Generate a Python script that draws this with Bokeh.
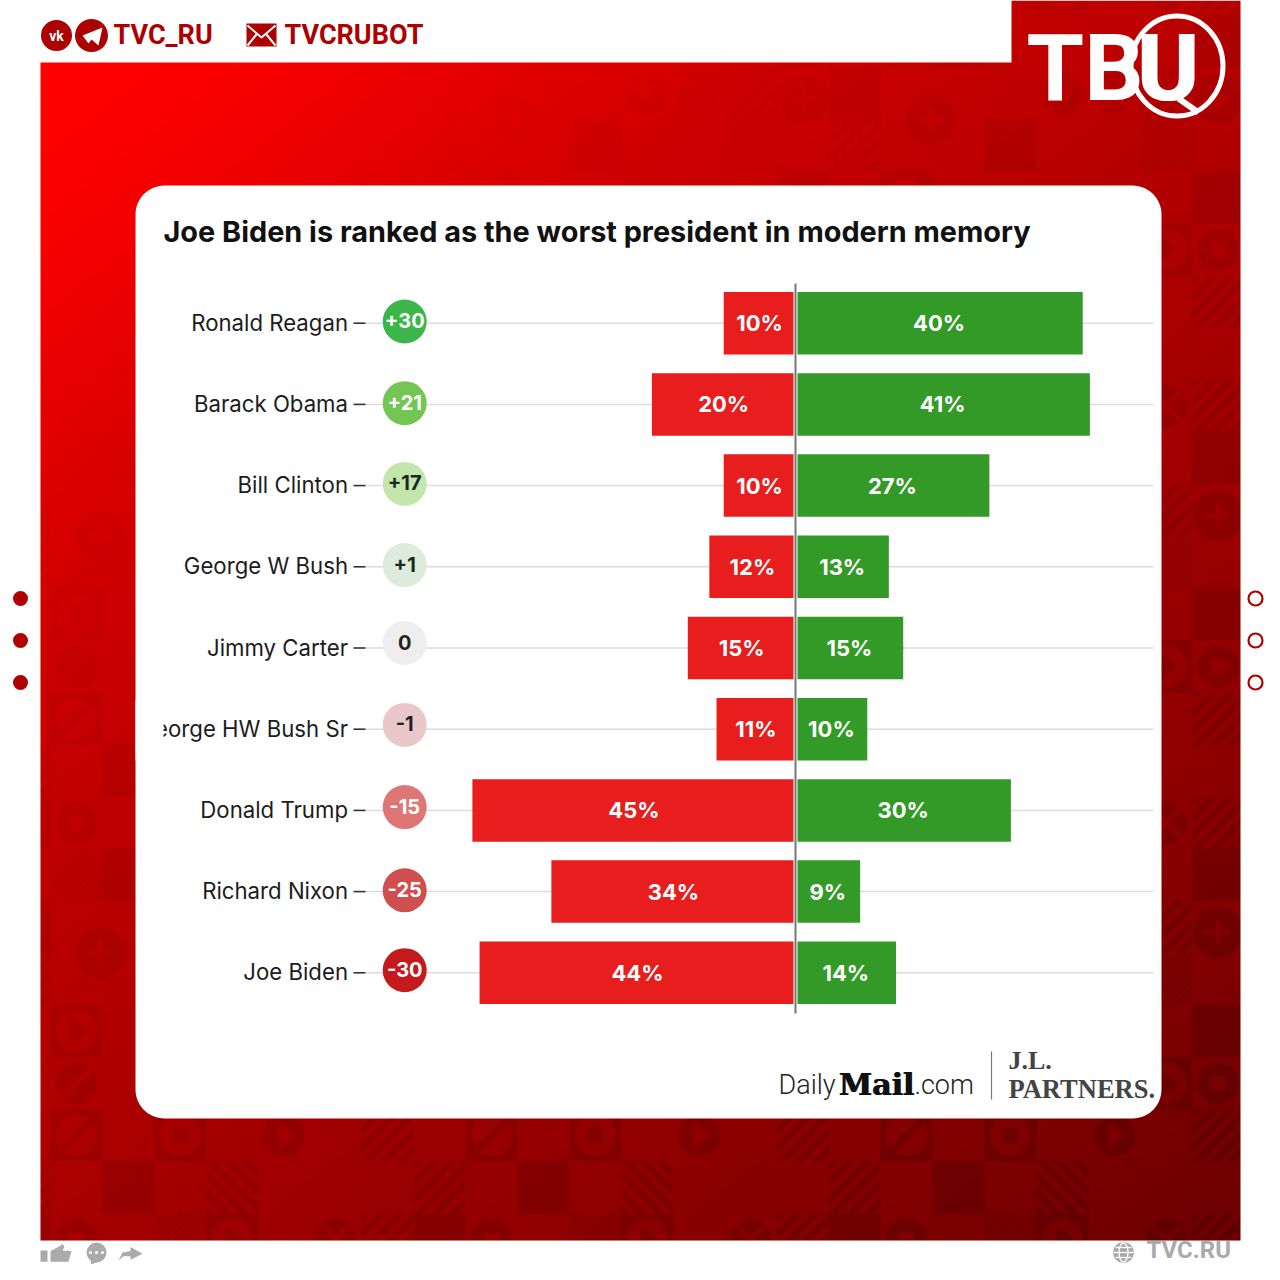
import numpy as np
from bokeh.plotting import figure
from bokeh.models import Range1d
from bokeh.core.properties import value
from bokeh.embed import file_html
from bokeh.resources import INLINE

# ---------- chart data ----------
names = ["Ronald Reagan", "Barack Obama", "Bill Clinton", "George W Bush", "Jimmy Carter",
         "George HW Bush Sr", "Donald Trump", "Richard Nixon", "Joe Biden"]
worst = [10, 20, 10, 12, 15, 11, 45, 34, 44]
best = [40, 41, 27, 13, 15, 10, 30, 9, 14]
net = [30, 21, 17, 1, 0, -1, -15, -25, -30]
net_colors = ["#3cb54a", "#74c654", "#c3e6ad", "#dcebdc", "#eeeeee",
              "#eac8c9", "#de7676", "#cf4e4e", "#c41a1c"]
net_text = ["#ffffff", "#ffffff", "#1a2a1a", "#1a2a1a", "#222222",
            "#222222", "#ffffff", "#ffffff", "#ffffff"]
title = "Joe Biden is ranked as the worst president in modern memory"

# ---------- page geometry (reference pixels) ----------
PX0, PX1 = 0, 1264
KX = 7.18          # px per percentage point
CX = 795           # px of the zero line
ROW0, ROWH = 322.7, 81.2
rows = list(range(len(names)))
badge_nudge = [-1.7, -1.2, -1.7, -1.7, -5.0, -4.3, -3.3, -1.3, -2.6]

# ---------- decorated background as a raster ----------
SS = 2
bx0, bx1, by0, by1 = 40, 1240, 0, 1240
W, H = (bx1 - bx0) * SS, (by1 - by0) * SS
xs = bx0 + (np.arange(W) + .5) / SS
ys = by0 + (np.arange(H) + .5) / SS
XX, YY = np.meshgrid(xs, ys)
M = np.zeros((H, W))
CW, RH, TX0, TY0 = 51.9, 52.1, 50.0, 171.0

tiles = [(0, 0, "playt"), (0, 1, "slashc"), (0, 2, "slasht"), (2, 2, "sqt"), (4, 2, "playc"), (6, 2, "st"),
         (1, 3, "dark"), (3, 3, "bs"), (7, 3, "st"),
         (0, 4, "sqc"), (2, 4, "fine"), (3, 4, "playt"), (5, 4, "xc"), (6, 4, "st"), (7, 4, "dark"),
         (0, 5, "fine"), (1, 5, "dark"), (6, 5, "dark"), (6, 0, "dark"), (6, 1, "sqc"), (5, 1, "playt"),
         (0.45, 6.5, "plus"), (6, 6.1, "plus"), (5, 6, "st"), (5, 7, "fine"), (7, 6, "dark"),
         (7, 7, "st"), (2, 7, "dark"), (4, 6, "xc"), (3, 6, "sqc")]


def paint(c, r, kind):
    for i in range(-1, 4):
        for j in range(-2, 4):
            l, t = TX0 + (c + 8 * i) * CW, TY0 + (r + 8 * j) * RH
            a0, a1 = int((l - bx0) * SS), int((l + CW - bx0) * SS)
            b0, b1 = int((t - by0) * SS), int((t + RH - by0) * SS)
            a0c, a1c, b0c, b1c = max(a0, 0), min(a1, W), max(b0, 0), min(b1, H)
            if a0c >= a1c or b0c >= b1c:
                continue
            u = (XX[b0c:b1c, a0c:a1c] - l) / CW
            v = (YY[b0c:b1c, a0c:a1c] - t) / RH
            rr = np.hypot(u - .5, v - .5)
            m = np.zeros_like(u, dtype=bool)
            tri = (u > .38) & (u < .72) & (np.abs(v - .5) < (.72 - u) * .75)
            ring = rr < .40
            band = np.abs(u + v - 1) < .09
            if kind == "dark":
                m[:] = True
            elif kind == "st":
                m = ((u + v) * 3 % 1) < .5
            elif kind == "bs":
                m = ((u - v) * 3 % 1) < .5
            elif kind == "fine":
                m = ((u + v) * 8 % 1) < .35
            elif kind == "playt":
                m = ~ring | tri
            elif kind == "slasht":
                m = ~ring | band
            elif kind == "sqt":
                m = ~ring | ((np.abs(u - .5) < .14) & (np.abs(v - .5) < .14))
            elif kind == "slashc":
                m = ring & ~band
            elif kind == "playc":
                m = ring & ~tri
            elif kind == "sqc":
                m = ring & ~((np.abs(u - .5) < .14) & (np.abs(v - .5) < .14))
            elif kind == "xc":
                m = ring & ~((np.abs(u - v) < .07) | (np.abs(u + v - 1) < .07))
            elif kind == "plus":
                m = (rr < .48) & ~(((np.abs(u - .5) < .05) & (np.abs(v - .5) < .24)) |
                                   ((np.abs(v - .5) < .05) & (np.abs(u - .5) < .24)))
            M[b0c:b1c, a0c:a1c][m] = 1


for c_, r_, k_ in tiles:
    paint(c_, r_, k_)

t = 0.8 * (XX - 40) / 1200 + (YY - 62) / 1178
strength = np.interp(t, [0.25, 0.7, 1.0, 1.6], [0.0, 0.055, 0.085, 0.14])
R = np.interp(t, [0, .12, .5, 1.0, 1.4, 1.8], [255, 252, 205, 168, 140, 108]) * (1 - strength * M)
G = np.zeros_like(R)
A = np.full_like(R, 255)
A[(YY < 62) & (XX < 1011)] = 0
rgba = np.dstack([R, G, G, A])
rgba = rgba.reshape(H // SS, SS, W // SS, SS, 4).mean(axis=(1, 3)).astype(np.uint8)
img = np.empty(rgba.shape[:2], dtype=np.uint32)
img.view(dtype=np.uint8).reshape(rgba.shape)[:] = rgba[::-1]

# ---------- figure ----------
SIDE = PX1 - PX0
p = figure(width=SIDE, height=SIDE, output_backend="svg", toolbar_location=None,
           x_range=Range1d((PX0 - CX) / KX, (PX1 - CX) / KX),
           y_range=Range1d((PX1 - ROW0) / ROWH, (PX0 - ROW0) / ROWH),
           x_axis_location=None, y_axis_location=None, min_border=0,
           outline_line_color=None, background_fill_color="white", border_fill_color="white")
p.grid.visible = False
p.extra_x_ranges = {"px": Range1d(PX0, PX1)}
p.extra_y_ranges = {"py": Range1d(PX1, PX0), "pyu": Range1d(-PX1, -PX0)}
PXY = dict(x_range_name="px", y_range_name="py")


def txt(x, y, s, size, color, font, style="normal", align="left", base="middle"):
    p.text(x=[x], y=[y], text=[s], text_font=value(font), text_font_size=f"{size}px",
           text_font_style=style, text_color=color, text_align=align, text_baseline=base, **PXY)


def poly(xs_, ys_, color, **kw):
    p.patch(xs_, ys_, fill_color=color, line_color=None, **PXY, **kw)


def rrect(l, r, t_, b, rad, color):
    a = np.linspace(0, np.pi / 2, 16)
    xs_ = np.r_[r - rad + rad * np.sin(a), r - rad + rad * np.cos(a), l + rad - rad * np.sin(a), l + rad - rad * np.cos(a)]
    ys_ = np.r_[t_ + rad - rad * np.cos(a), b - rad + rad * np.sin(a), b - rad + rad * np.cos(a), t_ + rad - rad * np.sin(a)]
    poly(xs_, ys_, color)


p.image_rgba(image=[img], x=[bx0], y=[-by1], dw=[bx1 - bx0], dh=[by1 - by0],
             x_range_name="px", y_range_name="pyu")

# card
rrect(135, 1161, 185, 1118, 29, "#ffffff")
txt(163, 231, title, 28.85, "#111111", "Inter", "bold")

# grid lines through each row
p.segment(x0=[365] * 9, x1=[1153] * 9, y0=rows, y1=rows, line_color="#dcdcdc", line_width=1.5,
          x_range_name="px")

# row labels + tick dashes
p.text(x=[347.5] * 9, y=[r - 0.012 for r in rows], text=names, text_font=value("Inter"), text_font_size="22.2px",
       text_color="#1c1c1c", text_align="right", text_baseline="middle", x_range_name="px")
p.segment(x0=[353] * 9, x1=[365] * 9, y0=rows, y1=rows, line_color="#333333", line_width=1.6,
          x_range_name="px")
poly([135, 163, 163, 135], [700, 700, 760, 760], "#ffffff")

# net badges
by = [ROW0 + ROWH * i + d for i, d in zip(rows, badge_nudge)]
p.scatter(x=[404.2] * 9, y=by, size=44, fill_color=net_colors, line_color=None, **PXY)
labels = [f"{v:+d}" if v else "0" for v in net]
p.text(x=[404.2] * 9, y=[b - 1 for b in by], text=labels, text_font=value("Inter"), text_font_size="20px",
       text_font_style="bold", text_color=net_text, text_align="center", text_baseline="middle", **PXY)

# bars, from the zero line
BH = 0.77
p.hbar(y=rows, left=[-v for v in worst], right=[0] * 9, height=BH, fill_color="#e81d1d", line_color=None)
p.hbar(y=rows, left=[0] * 9, right=best, height=BH, fill_color="#339a27", line_color=None)
p.text(x=[-v / 2 for v in worst], y=rows, text=[f"{v}%" for v in worst], text_font=value("Inter"),
       text_font_size="22px", text_font_style="bold", text_color="#ffffff", text_align="center", text_baseline="middle")
p.text(x=[v / 2 for v in best], y=rows, text=[f"{v}%" for v in best], text_font=value("Inter"),
       text_font_size="22px", text_font_style="bold", text_color="#ffffff", text_align="center", text_baseline="middle")
p.segment(x0=[795], x1=[795], y0=[283], y1=[1013], line_color="#ffffff", line_width=4, **PXY)
p.segment(x0=[795], x1=[795], y0=[283], y1=[1013], line_color="#777777", line_width=2, **PXY)

# footer logos
LIGHT = "Roboto Light, Roboto"
txt(778, 1084.5, "Daily", 27, "#222222", LIGHT)
txt(838, 1084, "Mail", 30, "#111111", "DejaVu Serif", "bold")
txt(839, 1084, "Mail", 30, "#111111", "DejaVu Serif", "bold")
txt(914, 1084.5, ".com", 27, "#222222", LIGHT)
p.segment(x0=[991], x1=[991], y0=[1051], y1=[1099], line_color="#777777", line_width=1.2, **PXY)
txt(1008, 1060, "J.L.", 26, "#444444", "Liberation Serif", "bold")
txt(1008, 1088, "PARTNERS.", 26.5, "#444444", "Liberation Serif", "bold")

# header (socials)
DR = "#ad0000"
p.scatter(x=[56, 91], y=[35, 35], size=[31, 33], fill_color=DR, line_color=None, **PXY)
txt(56, 35, "vk", 14, "#ffffff", "Roboto", "bold", "center")
poly([82, 102, 98, 91, 88], [35, 27, 45, 39, 43], "#ffffff")
txt(113, 34, "TVC_RU", 27, DR, "Roboto", "bold")
poly([246, 276, 276, 246], [23, 23, 46, 46], DR)
p.multi_line([[247, 261, 275], [247, 256], [275, 266]], [[25, 37, 25], [45, 34], [45, 34]],
             line_color="#ffffff", line_width=2, **PXY)
txt(284, 34, "TVCRUBOT", 27, DR, "Roboto", "bold")

# logo
txt(1026, 68, "TB", 93, "#ffffff", "Roboto", "bold")
txt(1136, 68, "U", 93, "#ffffff", "Roboto", "bold")
txt(1138, 68, "U", 93, "#ffffff", "Roboto", "bold")
p.ellipse(x=[1176.5], y=[65.5], width=[92], height=[100], fill_color=None, line_color="#ffffff", line_width=5, **PXY)
p.segment(x0=[1178], x1=[1198], y0=[98], y1=[112], line_color="#ffffff", line_width=6, **PXY)

# side dots
p.scatter(x=[20] * 3, y=[598, 640, 682], size=15, fill_color="#b00000", line_color=None, **PXY)
p.scatter(x=[1255] * 3, y=[598, 640, 682], size=14, fill_color="#ffffff", line_color="#b00000", line_width=2.2, **PXY)

# footer icons (compressed slightly so they stay inside the frame)
GR = "#aaaaaa"


def fy(vals):
    return [1242 + (v - 1243) * 0.66 for v in vals]


poly([40, 47, 47, 40], fy([1255, 1255, 1272, 1272]), GR)
poly([50, 60, 62, 64, 62, 71, 68, 50], fy([1256, 1248, 1245, 1250, 1255, 1256, 1272, 1272]), GR)
p.scatter(x=[96], y=[1252], size=20, fill_color=GR, line_color=None, **PXY)
poly([90, 98, 91], [1259, 1261, 1264], GR)
p.scatter(x=[90, 96, 102], y=[1252, 1252, 1252], size=3, fill_color="#ffffff", line_color=None, **PXY)
poly([118, 122, 130, 130, 142, 130, 130, 123], fy([1270, 1258, 1256, 1250, 1260, 1269, 1264, 1264]), GR)
p.scatter(x=[1123], y=[1252], size=21, fill_color=GR, line_color=None, **PXY)
p.ellipse(x=[1123], y=[1252], width=[9], height=[19], fill_color=None, line_color="#ffffff", line_width=1.3, **PXY)
p.segment(x0=[1113, 1115, 1115], x1=[1133, 1131, 1131], y0=[1252, 1247, 1257], y1=[1252, 1247, 1257],
          line_color="#ffffff", line_width=1.3, **PXY)
txt(1146, 1249, "TVC.RU", 24, GR, "Roboto", "bold")

open("out.html", "w").write(file_html(p, INLINE))
